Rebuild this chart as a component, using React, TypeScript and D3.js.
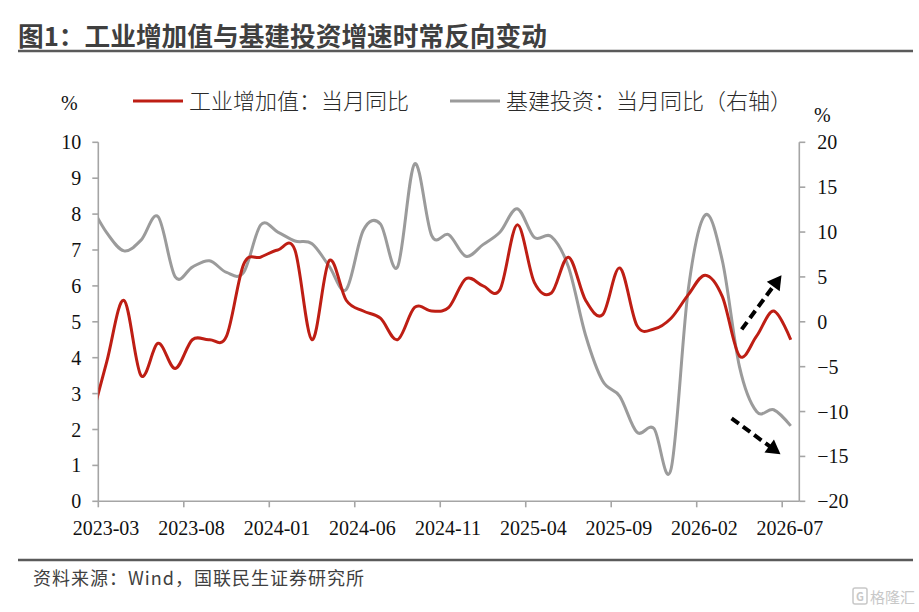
import { useEffect, useRef } from 'react';
import * as d3 from 'd3';

// month categories start at 2023-02 (clipped, sits left of the axis) and run to 2026-07
const firstMonth = new Date(2023, 1, 1);
const monthCount = 42;

const tickLabels = ['2023-03', '2023-08', '2024-01', '2024-06', '2024-11', '2025-04', '2025-09', '2026-02', '2026-07'];
const leftTicks = [0, 1, 2, 3, 4, 5, 6, 7, 8, 9, 10];
const rightTicks = [-20, -15, -10, -5, 0, 5, 10, 15, 20];

// 工业增加值：当月同比 (left axis)
const ivaValues = [
  2.1, 3.9, 5.6, 3.5, 4.4, 3.7, 4.5, 4.5, 4.6, 6.6, 6.8, 7.0, 7.0, 4.5, 6.7, 5.6, 5.3, 5.1, 4.5, 5.4, 5.3,
  5.4, 6.2, 6.0, 5.9, 7.7, 6.1, 5.8, 6.8, 5.6, 5.2, 6.5, 4.9, 4.8, 5.1, 5.75, 6.3, 5.7, 4.05, 4.6, 5.3, 4.5,
];

// 基建投资：当月同比 (right axis)
const infraValues = [
  13.2, 9.9, 7.9, 9.1, 11.7, 5.0, 6.1, 6.8, 5.5, 5.5, 10.8, 10.0, 9.0, 8.7, 6.2, 3.6, 10.2, 10.9, 6.1, 17.6, 9.6,
  9.7, 7.3, 8.6, 10.0, 12.6, 9.4, 9.5, 6.1, -1.5, -6.6, -8.3, -12.3, -11.9, -16.4, 3.5, 11.9, 6.8, -5.0, -10.0, -9.8, -11.6,
];

// annotation arrows in (month offset from 2023-03, left-axis value)
const arrows = [
  { from: [37.63, 4.79], to: [39.96, 6.3] },
  { from: [37.04, 2.31], to: [39.9, 1.31] },
];

const legendItems = [
  { label: '工业增加值：当月同比', color: '#BE1E14' },
  { label: '基建投资：当月同比（右轴）', color: '#9B9B9B' },
];

const CJK = '"Noto Sans CJK SC", "Noto Sans", sans-serif';
const SERIF = '"Liberation Serif", "DejaVu Serif", serif';

export default function App() {
  const svgRef = useRef<SVGSVGElement>(null);

  useEffect(() => {
    if (!svgRef.current) return;
    const width = 919;
    const height = 612;
    const plot = { left: 98.3, right: 799.3, top: 142.3, bottom: 501.3 };

    const svg = d3.select(svgRef.current);
    svg.selectAll('*').remove();

    const months = d3.timeMonth.range(firstMonth, d3.timeMonth.offset(firstMonth, monthCount));
    const fmt = d3.timeFormat('%Y-%m');
    const startIdx = months.findIndex(m => fmt(m) === tickLabels[0]);

    // band-like month axis: month k (from 2023-03) occupies [k, k+1]
    const x = d3.scaleLinear().domain([0, 41]).range([plot.left, plot.right]);
    const yLeft = d3.scaleLinear().domain([0, 10]).range([plot.bottom, plot.top]);
    const yRight = d3.scaleLinear().domain([-20, 20]).range([plot.bottom, plot.top]);
    const axisColor = '#A5A5A5';

    // title
    svg.append('text')
      .attr('x', 18)
      .attr('y', 46)
      .style('font-family', CJK)
      .style('font-size', '25.7px')
      .style('font-weight', '700')
      .style('fill', '#3F3F3F')
      .text('图1：工业增加值与基建投资增速时常反向变动');

    svg.append('line')
      .attr('x1', 18).attr('x2', 913)
      .attr('y1', 51).attr('y2', 51)
      .attr('stroke', '#5A5A5A')
      .attr('stroke-width', 2.5);

    // footer
    svg.append('line')
      .attr('x1', 18).attr('x2', 913)
      .attr('y1', 560).attr('y2', 560)
      .attr('stroke', '#5A5A5A')
      .attr('stroke-width', 2.5);

    svg.append('text')
      .attr('x', 33)
      .attr('y', 585)
      .style('font-family', CJK)
      .style('font-size', '18px')
      .style('letter-spacing', '1px')
      .style('fill', '#404040')
      .text('资料来源：Wind，国联民生证券研究所');

    const logo = svg.append('g').attr('transform', 'translate(853,589)');
    logo.append('rect')
      .attr('x', 0).attr('y', -1).attr('width', 14).attr('height', 16).attr('rx', 2)
      .attr('fill', 'none').attr('stroke', '#C8C8C8').attr('stroke-width', 1.5);
    logo.append('text')
      .attr('x', 7).attr('y', 11.5).attr('text-anchor', 'middle')
      .style('font-family', CJK).style('font-size', '11px').style('font-weight', '700')
      .style('fill', '#C8C8C8').text('G');
    logo.append('text')
      .attr('x', 17).attr('y', 14)
      .style('font-family', CJK).style('font-size', '15px')
      .style('fill', '#C8C8C8').text('格隆汇');

    // legend
    svg.append('text')
      .attr('x', 61).attr('y', 110)
      .style('font-family', SERIF).style('font-size', '20px').style('fill', '#111')
      .text('%');
    svg.append('text')
      .attr('x', 814).attr('y', 122)
      .style('font-family', SERIF).style('font-size', '20px').style('fill', '#111')
      .text('%');

    const legendX = [133, 450];
    legendItems.forEach((item, i) => {
      const row = svg.append('g').attr('transform', `translate(${legendX[i]},101)`);
      row.append('line')
        .attr('x1', 0).attr('x2', 50)
        .attr('stroke', item.color)
        .attr('stroke-width', 3);
      row.append('text')
        .attr('x', 56).attr('y', 8)
        .style('font-family', CJK).style('font-size', '22px').style('font-weight', '300')
        .style('fill', '#2A2A2A')
        .text(item.label);
    });

    // axes lines
    const axes = svg.append('g').attr('stroke', axisColor).attr('stroke-width', 1.6);
    axes.append('line').attr('x1', plot.left).attr('x2', plot.left).attr('y1', plot.top).attr('y2', plot.bottom);
    axes.append('line').attr('x1', plot.right).attr('x2', plot.right).attr('y1', plot.top).attr('y2', plot.bottom);
    axes.append('line').attr('x1', plot.left).attr('x2', plot.right).attr('y1', plot.bottom).attr('y2', plot.bottom);

    axes.selectAll('.lt').data(leftTicks).join('line')
      .attr('x1', plot.left - 6).attr('x2', plot.left)
      .attr('y1', d => yLeft(d)).attr('y2', d => yLeft(d));
    axes.selectAll('.rt').data(rightTicks).join('line')
      .attr('x1', plot.right).attr('x2', plot.right + 6)
      .attr('y1', d => yRight(d)).attr('y2', d => yRight(d));
    axes.selectAll('.bt').data(tickLabels).join('line')
      .attr('x1', (_, i) => x(i * 5)).attr('x2', (_, i) => x(i * 5))
      .attr('y1', plot.bottom).attr('y2', plot.bottom + 6);

    const labels = svg.append('g')
      .style('font-family', SERIF)
      .style('font-size', '20px')
      .style('fill', '#111');

    labels.selectAll('.ll').data(leftTicks).join('text')
      .attr('x', plot.left - 17)
      .attr('y', d => yLeft(d) + 7)
      .attr('text-anchor', 'end')
      .text(d => d3.format('d')(d));

    labels.selectAll('.rl').data(rightTicks).join('text')
      .attr('x', plot.right + 18)
      .attr('y', d => yRight(d) + 7)
      .attr('text-anchor', 'start')
      .text(d => d3.format('d')(d));

    labels.selectAll('.xl').data(tickLabels).join('text')
      .attr('x', (_, i) => x(i * 5 + 0.45))
      .attr('y', 535)
      .attr('text-anchor', 'middle')
      .text(d => d);

    // series
    svg.append('defs').append('clipPath').attr('id', 'plot-clip')
      .append('rect')
      .attr('x', plot.left).attr('y', plot.top - 20)
      .attr('width', plot.right - plot.left).attr('height', plot.bottom - plot.top + 40);

    const monthX = (i: number) => x(i - startIdx + 0.5);
    const curve = d3.curveCardinal.tension(0);

    const grayLine = d3.line<number>()
      .x((_, i) => monthX(i))
      .y(d => yRight(d))
      .curve(curve);
    const redLine = d3.line<number>()
      .x((_, i) => monthX(i))
      .y(d => yLeft(d))
      .curve(curve);

    const series = svg.append('g').attr('clip-path', 'url(#plot-clip)');
    series.append('path')
      .datum(infraValues)
      .attr('fill', 'none')
      .attr('stroke', legendItems[1].color)
      .attr('stroke-width', 3)
      .attr('stroke-linejoin', 'round')
      .attr('d', grayLine);
    series.append('path')
      .datum(ivaValues)
      .attr('fill', 'none')
      .attr('stroke', legendItems[0].color)
      .attr('stroke-width', 3)
      .attr('stroke-linejoin', 'round')
      .attr('d', redLine);

    // dashed arrows
    const headLen = 14;
    const headHalf = 8;
    arrows.forEach(a => {
      const x1 = x(a.from[0]);
      const y1 = yLeft(a.from[1]);
      const x2 = x(a.to[0]);
      const y2 = yLeft(a.to[1]);
      const len = Math.hypot(x2 - x1, y2 - y1);
      const ux = (x2 - x1) / len;
      const uy = (y2 - y1) / len;
      const bx = x2 - ux * headLen;
      const by = y2 - uy * headLen;
      svg.append('line')
        .attr('x1', x1).attr('y1', y1)
        .attr('x2', bx + ux * 2).attr('y2', by + uy * 2)
        .attr('stroke', '#000')
        .attr('stroke-width', 4)
        .attr('stroke-dasharray', '9,5');
      svg.append('path')
        .attr('d', `M${x2},${y2}L${bx - uy * headHalf},${by + ux * headHalf}L${bx + uy * headHalf},${by - ux * headHalf}Z`)
        .attr('fill', '#000');
    });

    svg.attr('width', width).attr('height', height);
  }, []);

  return (
    <svg
      ref={svgRef}
      width={919}
      height={612}
      style={{ position: 'absolute', left: 0, top: 0, background: '#fff' }}
    />
  );
}
